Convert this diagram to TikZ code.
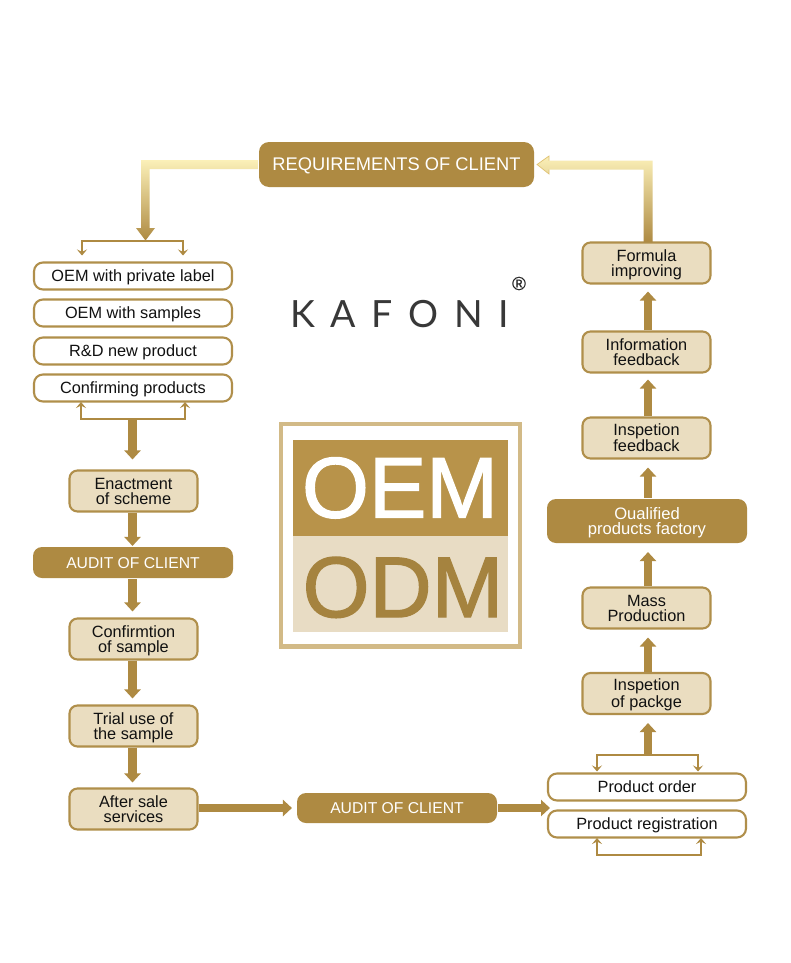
\documentclass[tikz,border=0pt]{standalone}
\usepackage{fontspec}
\setmainfont{Liberation Sans}
\newfontfamily\logofont{Lato}
\usetikzlibrary{arrows.meta,calc}
\definecolor{gold}{HTML}{AE8A42}
\definecolor{goldline}{HTML}{B08F4B}
\definecolor{sand}{HTML}{EADDC0}
\definecolor{pale}{HTML}{FBF0B8}
\definecolor{midgold}{HTML}{DFC172}
\definecolor{ink}{HTML}{111111}
\definecolor{oemfill}{HTML}{B8934A}
\definecolor{odmfill}{HTML}{E8DCC4}
\definecolor{framecol}{HTML}{D2BA87}
\tikzset{
  base/.style={draw=goldline,line width=2.1pt,align=center,inner sep=0pt,text=ink,
     font=\fontsize{16.3}{15}\selectfont},
  single/.style={text depth=0pt,text height=11.6pt},
  double/.style={text depth=0pt,text height=27pt},
  whitebox/.style={base,single,fill=white,rounded corners=9pt,minimum width=198pt,minimum height=27pt},
  sandbox/.style={base,double,fill=sand,rounded corners=8pt,minimum width=128pt,minimum height=41pt},
  darkbox/.style={base,single,draw=none,fill=gold,text=white,rounded corners=9pt,minimum width=200pt,font=\fontsize{15.7}{15}\selectfont},
  fat/.style={draw=gold,line width=8.4pt,-{Triangle[width=16pt,length=9pt]}},
  thinarr/.style={draw=gold,line width=2.1pt,{Stealth[width=10pt,length=6pt,inset=2.5pt]}-{Stealth[width=10pt,length=6pt,inset=2.5pt]}},
  gradarr/.style={top color=pale,middle color=midgold,bottom color=gold},
}
\begin{document}
\begin{tikzpicture}[x=1pt,y=-1pt]
\useasboundingbox (0,0) rectangle (790,963);
\fill[white] (0,0) rectangle (790,963);

% top box
\node[darkbox,minimum width=275pt,minimum height=45pt,rounded corners=10pt,text height=12.6pt,font=\fontsize{18.3}{18}\selectfont] (req) at (396.5,164.5) {REQUIREMENTS OF CLIENT};

% left column
\node[whitebox] (oem1) at (133,276) {OEM with private label};
\node[whitebox] (oem2) at (133,313) {OEM with samples};
\node[whitebox] (rd)   at (133,351) {R\&D new product};
\node[whitebox] (conf) at (133,388) {Confirming products};
\node[sandbox] (enact) at (133.5,491) {Enactment\\of scheme};
\node[darkbox,minimum height=31pt] (audit1) at (133,562.5) {AUDIT OF CLIENT};
\node[sandbox] (csam) at (133.5,639) {Confirmtion\\of sample};
\node[sandbox] (trial) at (133.5,726) {Trial use of\\the sample};
\node[sandbox] (after) at (133.5,809) {After sale\\services};
\node[darkbox,minimum height=30pt] (audit2) at (397,808) {AUDIT OF CLIENT};

% right column
\node[whitebox] (order) at (647,787) {Product order};
\node[whitebox] (reg) at (647,824) {Product registration};
\node[sandbox] (pack) at (646.5,693.5) {Inspetion\\of packge};
\node[sandbox] (mass) at (646.5,608) {Mass\\Production};
\node[darkbox,double,minimum height=44pt,font=\fontsize{16.6}{15}\selectfont] (qual) at (647,521) {Oualified\\products factory};
\node[sandbox] (insp) at (646.5,438) {Inspetion\\feedback};
\node[sandbox] (info) at (646.5,352) {Information\\feedback};
\node[sandbox] (form) at (646.5,263) {Formula\\improving};

% logo
\node[inner sep=0pt,anchor=base west,text=black!78,font=\logofont\fontsize{37.5}{38}\selectfont\addfontfeature{LetterSpace=42}] (kafoni) at (290,327) {KAFONI};
\node[inner sep=0pt,text=black!85,font=\fontsize{19}{19}\selectfont\addfontfeature{FakeBold=0.3}] (regmark) at (519,283.5) {®};

% OEM / ODM panel
\draw[draw=framecol,line width=4.5pt] (281.2,424.2) rectangle (519.8,646.7);
\fill[oemfill] (293,440) rectangle (508,536);
\fill[odmfill] (293,536) rectangle (508,632);
\node[inner sep=0pt,anchor=base,text=white,font=\fontsize{86}{87}\selectfont\addfontfeature{FakeBold=1.6}] (oem) at (400,517.5) {OEM};
\node[inner sep=0pt,anchor=base,text=gold!95!black,font=\fontsize{86}{87}\selectfont\addfontfeature{FakeBold=1.6}] (odm) at (403,617) {ODM};

% gradient arrows
\path ($(req.west)+(0,-4.5)$) coordinate (lA) ($(req.west)+(0,4.5)$) coordinate (lB);
\shade[gradarr] (lA) -- (141,160) -- (141,228) -- (136,228) -- (145.5,240.5) -- (155,228) -- (149.5,228) -- (149.5,169) -- (lB) -- cycle;
\path ($(req.east)+(2,0)$) coordinate (rTip);
\shade[gradarr] (rTip) -- (549,156) -- (549,160.5) -- (652.7,160.5) -- (652.7,242) -- (643.7,242) -- (643.7,169.5) -- (549,169.5) -- (549,174) -- cycle;
\draw[draw=midgold,line width=.7pt] (549,160.5) -- (549,156) -- (rTip) -- (549,174) -- (549,169.5);

% left brackets
\coordinate (a1) at (82,255.5); \coordinate (a2) at (82,241); \coordinate (a3) at (183,241); \coordinate (a4) at (183,255.5);
\draw[thinarr] (a1) -- (a2) -- (a3) -- (a4);
\coordinate (b1) at (81,402); \coordinate (b2) at (81,419); \coordinate (b3) at (185,419); \coordinate (b4) at (185,402);
\draw[thinarr] (b1) -- (b2) -- (b3) -- (b4);

% left flow
\coordinate (lm) at (132.5,418.5);
\draw[fat,shorten >=10pt] (lm) -- (lm |- enact.north);
\draw[fat] (enact.south -| lm) -- (lm |- audit1.north);
\draw[fat,shorten >=6pt] (audit1.south -| lm) -- (lm |- csam.north);
\draw[fat,shorten >=6pt] (csam.south -| lm) -- (lm |- trial.north);
\draw[fat,shorten >=5pt] (trial.south -| lm) -- (lm |- after.north);
\draw[fat,shorten >=4pt] (after.east |- audit2.west) -- (audit2.west);
\coordinate (into) at (550,808);
\draw[fat] (audit2.east) -- (into);

% right brackets
\coordinate (c1) at (597,771.5); \coordinate (c2) at (597,755); \coordinate (c3) at (698,755); \coordinate (c4) at (698,771.5);
\draw[thinarr] (c1) -- (c2) -- (c3) -- (c4);
\coordinate (d1) at (597,838); \coordinate (d2) at (597,855); \coordinate (d3) at (701,855); \coordinate (d4) at (701,838);
\draw[thinarr] (d1) -- (d2) -- (d3) -- (d4);

% right flow
\coordinate (cm) at (648,755.5);
\draw[fat,shorten >=8pt] (cm) -- (cm |- pack.south);
\draw[fat,shorten >=8pt] (pack.north -| cm) -- (cm |- mass.south);
\draw[fat,shorten >=8pt] (mass.north -| cm) -- (cm |- qual.south);
\draw[fat,shorten >=8pt] (qual.north -| cm) -- (cm |- insp.south);
\draw[fat,shorten >=6pt] (insp.north -| cm) -- (cm |- info.south);
\draw[fat,shorten >=7pt] (info.north -| cm) -- (cm |- form.south);
\end{tikzpicture}
\end{document}
